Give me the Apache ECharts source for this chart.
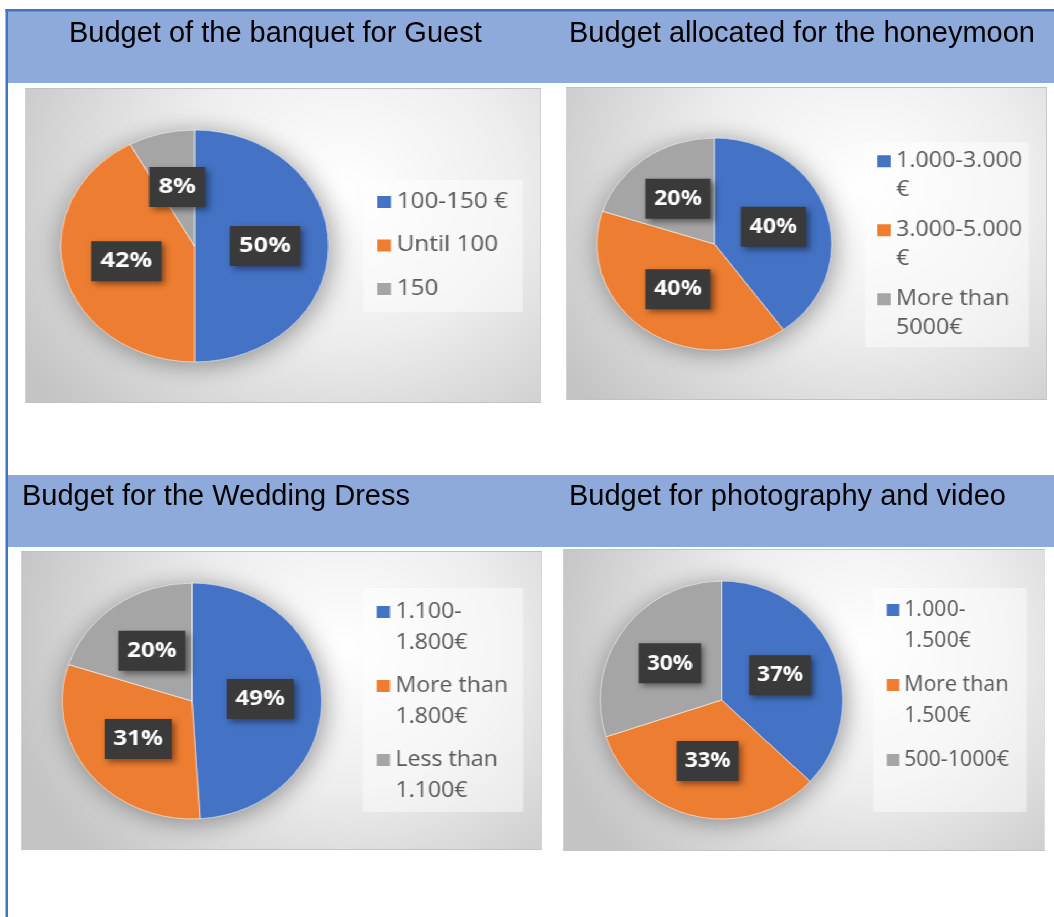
<!DOCTYPE html>
<html>
<head>
<meta charset="utf-8">
<title>Wedding budget</title>
<script src="https://cdn.jsdelivr.net/npm/echarts@6/dist/echarts.min.js"></script>
<style>
  html, body { margin: 0; padding: 0; background: #fff; }
  #frame { position: absolute; left: 0; top: 0; width: 1054px; height: 917px; }
  .panel { position: absolute; transform-origin: 0 0; outline: 1px solid #c2c2c2; }
</style>
</head>
<body>
<div id="frame"></div>
<div id="p1" class="panel"></div>
<div id="p2" class="panel"></div>
<div id="p3" class="panel"></div>
<div id="p4" class="panel"></div>
<script>
// data
var titles = ['Budget of the banquet for Guest', 'Budget allocated for the honeymoon',
              'Budget for the Wedding Dress', 'Budget for photography and video'];

var banquetNames = ['100-150 €', 'Until 100', '150'];
var banquetValues = [50, 42, 8];

var honeymoonNames = ['1.000-3.000\n€', '3.000-5.000\n€', 'More than\n5000€'];
var honeymoonValues = [40, 40, 20];

var dressNames = ['1.100-\n1.800€', 'More than\n1.800€', 'Less than\n1.100€'];
var dressValues = [49, 31, 20];

var photoNames = ['1.000-\n1.500€', 'More than\n1.500€', '500-1000€'];
var photoValues = [37, 33, 30];

var colors = ['#4472c4', '#ed7d31', '#a5a5a5'];
var font = 'Open Sans';

// page frame: header bands + titles
var frame = echarts.init(document.getElementById('frame'));
frame.setOption({
  animation: false,
  title: [
    { text: titles[0], left: 69, top: 19 },
    { text: titles[1], left: 569, top: 19 },
    { text: titles[2], left: 22, top: 482 },
    { text: titles[3], left: 569, top: 482 }
  ].map(function (t) {
    t.padding = 0;
    t.textStyle = { fontFamily: 'Liberation Sans', fontSize: 29, fontWeight: 'normal', color: '#000' };
    return t;
  }),
  graphic: [
    { type: 'rect', z: -1, shape: { x: 8, y: 11, width: 1046, height: 72 }, style: { fill: '#8eaadb' } },
    { type: 'rect', z: -1, shape: { x: 8, y: 475, width: 1046, height: 72 }, style: { fill: '#8eaadb' } },
    { type: 'rect', shape: { x: 5.5, y: 9, width: 1049, height: 2.5 }, style: { fill: '#4472c4' } },
    { type: 'rect', shape: { x: 5.5, y: 9, width: 2.5, height: 908 }, style: { fill: '#4472c4' } }
  ]
});

// legend marker: 12px square sitting on the first text line
function squareIcon(lh, lines) {
  var h = lh * lines, a = lh / 2 - 6, b = lh / 2 + 6;
  return 'path://M0,0H0.01V0.01H0Z M0,' + a + 'H12V' + b + 'H0Z M0,' + (h - 0.01) + 'H0.01V' + h + 'H0Z';
}

var panels = [
  { id: 'p1', names: banquetNames, values: banquetValues,
    left: 26, top: 89, w: 514, h: 313, k: 1.155, cx: 146, cy: 157, r: 116,
    legLeft: 292, legTop: 91, pad: [7, 6, 8, 12], lh: 30, lines: 1, gap: 13.5, tw: 103, fs: 21, lfs: 22 },
  { id: 'p2', names: honeymoonNames, values: honeymoonValues,
    left: 567, top: 88, w: 479, h: 311, k: 1.108, cx: 133, cy: 156, r: 106,
    legLeft: 269, legTop: 54, pad: [5, 6, 5, 11], lh: 28.5, lines: 2, gap: 12, tw: 113, fs: 21, lfs: 21 },
  { id: 'p3', names: dressNames, values: dressValues,
    left: 22, top: 552, w: 519, h: 297, k: 1.10, cx: 154.5, cy: 149, r: 118,
    legLeft: 310, legTop: 36, pad: [8.5, 6, 5.5, 12.5], lh: 31, lines: 2, gap: 12, tw: 110, fs: 21, lfs: 22 },
  { id: 'p4', names: photoNames, values: photoValues,
    left: 564, top: 550, w: 480, h: 300, k: 1.02, cx: 154.5, cy: 150, r: 119,
    legLeft: 303, legTop: 38, pad: [6.5, 6, 5.5, 13.5], lh: 31, lines: 2, gap: 13, tw: 114, fs: 21, lfs: 22 }
];

panels.forEach(function (p) {
  var el = document.getElementById(p.id);
  el.style.left = p.left + 'px';
  el.style.top = p.top + 'px';
  el.style.width = (p.w / p.k) + 'px';
  el.style.height = p.h + 'px';
  el.style.transform = 'scaleX(' + p.k + ')';

  var data = p.names.map(function (n, i) { return { name: n, value: p.values[i] }; });
  var chart = echarts.init(el);
  chart.setOption({
    animation: false,
    color: colors,
    backgroundColor: {
      type: 'radial', x: 0.62, y: 0.32, r: 1.05,
      colorStops: [
        { offset: 0, color: '#ffffff' },
        { offset: 0.45, color: '#eeeeee' },
        { offset: 1, color: '#c4c4c4' }
      ]
    },
    legend: {
      orient: 'vertical',
      left: p.legLeft,
      top: p.legTop,
      padding: p.pad,
      itemGap: p.gap,
      itemWidth: 12,
      itemHeight: p.lh * p.lines,
      icon: squareIcon(p.lh, p.lines),
      backgroundColor: 'rgba(255,255,255,0.45)',
      selectedMode: false,
      itemStyle: { borderWidth: 0 },
      textStyle: { fontFamily: font, fontSize: p.fs, color: '#595959', lineHeight: p.lh, width: p.tw },
      formatter: function (name) {
        return p.lines === 2 && name.indexOf('\n') < 0 ? name + '\n' : name;
      },
      data: p.names
    },
    series: [
      {
        type: 'pie',
        z: 1,
        silent: true,
        center: [p.cx, p.cy],
        radius: p.r,
        label: { show: false },
        labelLine: { show: false },
        itemStyle: { shadowBlur: 24, shadowColor: 'rgba(0,0,0,0.4)', shadowOffsetX: 2, shadowOffsetY: 3 },
        data: data
      },
      {
        type: 'pie',
        z: 2,
        center: [p.cx, p.cy],
        radius: p.r,
        startAngle: 90,
        clockwise: true,
        avoidLabelOverlap: false,
        emphasis: { disabled: true },
        itemStyle: { borderColor: 'rgba(255,255,255,0.6)', borderWidth: 1 },
        labelLine: { show: false },
        label: {
          show: true,
          position: 'inside',
          formatter: '{c}%',
          color: '#fff',
          fontFamily: font,
          fontWeight: 'bold',
          fontSize: p.lfs,
          lineHeight: 22,
          backgroundColor: '#3a3a3a',
          padding: [9, 8],
          shadowBlur: 6,
          shadowColor: 'rgba(0,0,0,0.45)',
          shadowOffsetX: 3,
          shadowOffsetY: 3
        },
        data: data
      }
    ]
  });
});
</script>
</body>
</html>
